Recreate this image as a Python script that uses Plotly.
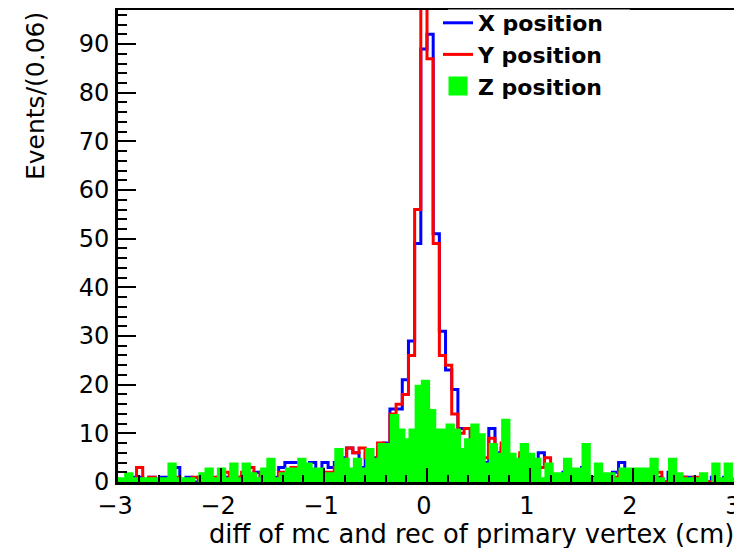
import plotly.graph_objects as go

# ---- data ----
X_MIN, X_MAX, N_BINS = -3.0, 3.0, 100
Y_MAX = 97

x_counts = [0, 0, 1, 1, 0, 1, 0, 1, 0, 3,
            0, 1, 0, 1, 1, 0, 1, 1, 0, 1,
            1, 1, 2, 0, 1, 1, 3, 4, 4, 4,
            3, 4, 0, 4, 3, 4, 5, 7, 6, 3,
            6, 5, 7, 8, 15, 15, 21, 29, 49, 89,
            92, 51, 31, 23, 19, 11, 11, 9, 8, 4,
            11, 6, 7, 5, 4, 5, 4, 3, 6, 3,
            1, 0, 2, 1, 1, 3, 0, 1, 1, 0,
            2, 4, 1, 2, 1, 1, 0, 1, 0, 2,
            1, 1, 1, 0, 0, 0, 1, 0, 1, 0]

y_counts = [0, 0, 0, 3, 0, 1, 0, 0, 0, 1,
            0, 0, 1, 0, 0, 1, 0, 2, 0, 1,
            2, 3, 0, 2, 1, 0, 2, 2, 3, 2,
            0, 2, 1, 2, 2, 3, 4, 7, 6, 7,
            5, 4, 8, 7, 14, 16, 18, 26, 56, 110,
            87, 49, 26, 24, 14, 10, 11, 8, 7, 5,
            9, 5, 8, 4, 4, 6, 5, 4, 3, 5,
            0, 0, 0, 0, 1, 2, 0, 0, 0, 1,
            1, 2, 0, 0, 0, 0, 1, 2, 0, 0,
            0, 1, 0, 1, 1, 0, 0, 0, 0, 0]

z_counts = [1, 2, 1, 1, 1, 1, 1, 1, 4, 1,
            1, 1, 0, 2, 3, 1, 3, 1, 4, 1,
            4, 2, 1, 3, 5, 1, 2, 3, 3, 5,
            4, 3, 3, 2, 2, 7, 5, 3, 5, 3,
            7, 5, 8, 8, 14, 11, 9, 11, 20, 21,
            15, 11, 11, 12, 11, 7, 9, 12, 10, 4,
            8, 6, 13, 6, 5, 8, 6, 5, 1, 4,
            2, 2, 5, 3, 3, 8, 1, 4, 2, 2,
            1, 3, 3, 3, 3, 3, 5, 1, 0, 5,
            2, 1, 1, 1, 2, 0, 4, 1, 4, 1]

x_ticks = [-3, -2, -1, 0, 1, 2, 3]
y_ticks = [0, 10, 20, 30, 40, 50, 60, 70, 80, 90]

series_names = ["X position", "Y position", "Z position"]
x_title = "diff of mc and rec of primary vertex (cm)"
y_title = "Events/(0.06)"

# ---- derived geometry ----
bw = (X_MAX - X_MIN) / N_BINS
edges = [X_MIN + i * bw for i in range(N_BINS + 1)]


def step_outline(counts):
    xs = [edges[0]] + edges + [edges[-1]]
    ys = [0] + list(counts) + [counts[-1], 0]
    return xs, ys


# Z bars are drawn 1.5 bins wide from each bin's low edge; silhouette on half-bin grid
half_edges = [X_MIN + j * bw / 2 for j in range(2 * N_BINS + 1)]
z_sil = []
for j in range(2 * N_BINS):
    k = j // 2
    if j % 2 == 0 and k > 0:
        z_sil.append(max(z_counts[k], z_counts[k - 1]))
    else:
        z_sil.append(z_counts[k])
z_sil.append(z_sil[-1])

FONT = "DejaVu Sans"
fig = go.Figure()

xs, ys = step_outline(x_counts)
fig.add_trace(go.Scatter(x=xs, y=ys, mode="lines", line=dict(color="#0000ff", width=3, shape="hv"),
                         name=series_names[0]))
xs, ys = step_outline(y_counts)
fig.add_trace(go.Scatter(x=xs, y=ys, mode="lines", line=dict(color="#ff0000", width=3, shape="hv"),
                         name=series_names[1]))
fig.add_trace(go.Scatter(x=half_edges, y=z_sil, mode="lines", line=dict(color="#00ff00", width=0, shape="hv"),
                         fill="tozeroy", fillcolor="#00ff00", showlegend=False, name=series_names[2]))
fig.add_trace(go.Scatter(x=[None], y=[None], mode="markers",
                         marker=dict(symbol="square", size=16, color="#00ff00",
                                     line=dict(color="#00ff00", width=3)),
                         name=series_names[2]))

# page body has an 8px margin: figure is offset to compensate
fig.update_layout(
    width=742, height=548,
    margin=dict(l=110, r=14, t=2, b=74, autoexpand=False),
    paper_bgcolor="white", plot_bgcolor="white",
    showlegend=True,
    legend=dict(x=(438 - 118) / 618, xanchor="left", y=1 + 8 / 472, yanchor="top",
                bgcolor="rgba(0,0,0,0)", borderwidth=0, itemwidth=30, tracegroupgap=0,
                font=dict(family=FONT, size=22, color="black", weight="bold")),
    font=dict(family=FONT, color="black"),
)

# white legend-box edge that hides part of the frame's top line (as in the reference)
fig.add_shape(type="rect", xref="paper", yref="paper",
              x0=(448 - 118) / 618, x1=(630 - 118) / 618, y0=1 - 2 / 472, y1=1 + 0.5 / 472,
              fillcolor="white", line=dict(width=0), layer="above")

fig.update_xaxes(range=[X_MIN, X_MAX], tickvals=x_ticks, ticks="inside", ticklen=14, tickwidth=2,
                 tickcolor="black", showgrid=False, zeroline=False, showline=True, linewidth=3,
                 linecolor="black", mirror=True, tickfont=dict(family=FONT, size=24),
                 ticklabelstandoff=0, ticklabelshift=-3, ticklabeloverflow="allow",
                 minor=dict(ticks="inside", dtick=0.2, tick0=X_MIN, ticklen=7, tickwidth=2,
                            tickcolor="black", showgrid=False))
fig.update_yaxes(range=[0, Y_MAX], tickvals=y_ticks, ticks="inside", ticklen=18, tickwidth=2,
                 tickcolor="black", showgrid=False, zeroline=False, showline=True, linewidth=3,
                 linecolor="black", mirror=True, tickfont=dict(family=FONT, size=24),
                 ticklabelstandoff=1,
                 minor=dict(ticks="inside", dtick=2, tick0=0, ticklen=9, tickwidth=2,
                            tickcolor="black", showgrid=False))

fig.add_annotation(text=x_title, xref="paper", yref="paper", x=1, y=-(534 - 482) / 472,
                   xanchor="right", yanchor="middle", showarrow=False,
                   font=dict(family=FONT, size=25.7, color="black"))
fig.add_annotation(text=y_title, xref="paper", yref="paper", x=(35 - 118) / 618, y=1,
                   xanchor="center", yanchor="top", textangle=-90, showarrow=False,
                   font=dict(family=FONT, size=25, color="black"))

fig.write_html("out.html")
